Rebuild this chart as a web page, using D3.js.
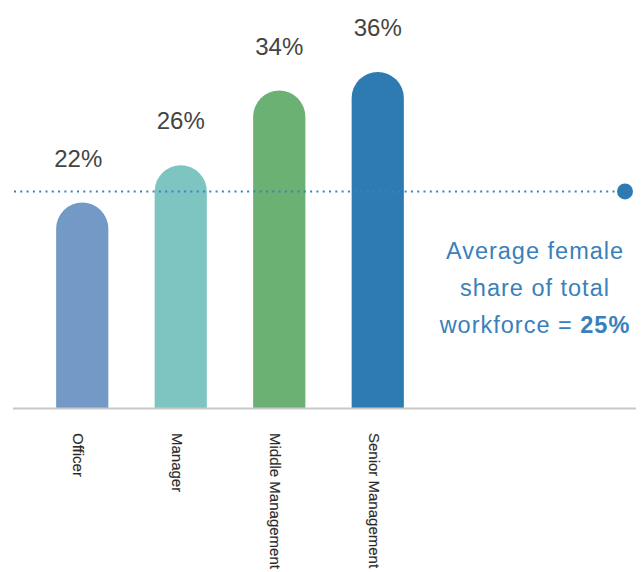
<!DOCTYPE html>
<html>
<head>
<meta charset="utf-8">
<script src="https://cdn.jsdelivr.net/npm/d3@7"></script>
<style>
  body { margin: 0; background: #fff; }
  svg { display: block; font-family: "Liberation Sans", Arial, Helvetica, sans-serif; }
</style>
</head>
<body>
<div class="chart"></div>
<script>
// female share by job level

var categories = ['Officer', 'Manager', 'Middle Management', 'Senior Management'];
var shares = [22, 26, 34, 36];
var barColors = ['#7399c6', '#7ec5c2', '#6cb174', '#2e7bb2'];

var avgShare = 25;          // shown in the note
var avgLineLevel = 23.2;    // where the dotted line sits in the picture
var noteLines = ['Average female', 'share of total', 'workforce = '];

var opts = {
  width: 643,
  height: 572,
  baseline: 408,
  labelTop: 433
};

var svg = d3.select('.chart').append('svg')
  .attr('width', opts.width)
  .attr('height', opts.height);

var x = d3.scaleBand()
  .domain(categories)
  .range([33, 427])
  .paddingInner(0.47)
  .paddingOuter(0.235);

var y = d3.scaleLinear()
  .domain([0, 43.7])
  .range([opts.baseline, 0]);

// bars with a rounded top, cap reaches the value
var barPath = function(d, i) {
  var x0 = x(categories[i]);
  var w = x.bandwidth();
  var r = w / 2;
  var top = y(d);
  return 'M' + x0 + ',' + opts.baseline +
    'V' + (top + r) +
    'A' + r + ',' + r + ' 0 0 1 ' + (x0 + w) + ',' + (top + r) +
    'V' + opts.baseline + 'Z';
};

svg.selectAll('.bar').data(shares).enter()
  .append('path')
  .attr('class', 'bar')
  .attr('d', barPath)
  .attr('fill', (d, i) => barColors[i]);

// baseline
svg.append('line')
  .attr('x1', 13).attr('x2', 636)
  .attr('y1', opts.baseline + 0.5).attr('y2', opts.baseline + 0.5)
  .attr('stroke', '#c8c8c8')
  .attr('stroke-width', 2);

// value labels
svg.selectAll('.value').data(shares).enter()
  .append('text')
  .attr('class', 'value')
  .attr('x', (d, i) => x(categories[i]) + x.bandwidth() / 2 - (i === 0 ? 4 : 0))
  .attr('y', d => y(d) - 36)
  .attr('text-anchor', 'middle')
  .attr('font-size', 24)
  .attr('fill', '#444')
  .text(d => d + '%');

// category labels, rotated
svg.selectAll('.cat').data(categories).enter()
  .append('text')
  .attr('class', 'cat')
  .attr('transform', d => 'translate(' + (x(d) + x.bandwidth() / 2 - 9) + ',' + opts.labelTop + ') rotate(90)')
  .attr('font-size', 15)
  .attr('fill', '#2a2a2a')
  .attr('stroke', '#2a2a2a')
  .attr('stroke-width', 0.15)
  .text(d => d);

// average line
var avgY = y(avgLineLevel);
svg.append('line')
  .attr('x1', 14).attr('x2', 616)
  .attr('y1', avgY).attr('y2', avgY)
  .attr('stroke', '#3a82bf')
  .attr('stroke-width', 2)
  .attr('stroke-dasharray', '2,4.3');

svg.append('circle')
  .attr('cx', 625).attr('cy', avgY)
  .attr('r', 8)
  .attr('fill', '#2e7bb2');

// note
var note = svg.append('text')
  .attr('font-size', 23.5)
  .attr('fill', '#3a80ba')
  .attr('letter-spacing', 1)
  .attr('text-anchor', 'middle');

noteLines.forEach(function(line, i) {
  note.append('tspan')
    .attr('x', 535)
    .attr('y', 259 + i * 37)
    .text(line);
  if (i === noteLines.length - 1) {
    note.select('tspan:last-child').append('tspan')
      .attr('font-weight', 'bold')
      .text(avgShare + '%');
  }
});
</script>
</body>
</html>
